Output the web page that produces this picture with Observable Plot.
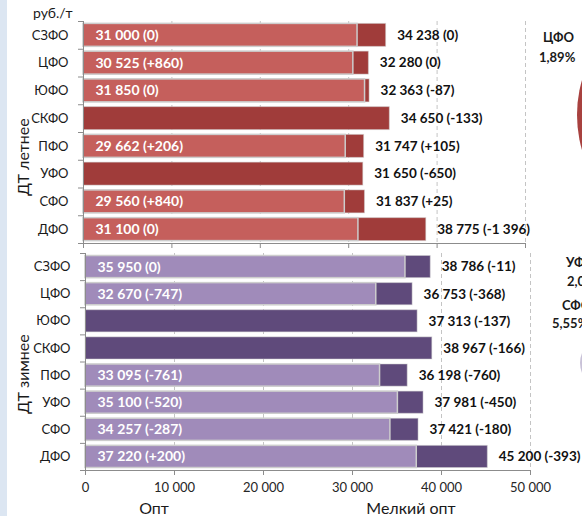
<!DOCTYPE html>
<html><head><meta charset="utf-8">
<script src="https://cdn.jsdelivr.net/npm/d3@7"></script>
<script src="https://cdn.jsdelivr.net/npm/@observablehq/plot@0.6"></script>
<style>
body{margin:0;background:#fff;font-family:Lato, sans-serif;}
#wrap{position:relative;width:582px;height:516px;overflow:hidden;background:#fff;}
.abs{position:absolute;white-space:nowrap;line-height:1;color:#1a1a1a;}
.b{font-weight:bold;font-size:13px;}
</style></head><body><div id="wrap"></div>
<script>
const regions = ["СЗФО","ЦФО","ЮФО","СКФО","ПФО","УФО","СФО","ДФО"];
const summerOpt = [31000,30525,31850,null,29662,null,29560,31100];
const summerOptChange = [0,860,0,null,206,null,840,0];
const summerSmall = [34238,32280,32363,34650,31747,31650,31837,38775];
const summerSmallChange = [0,0,-87,-133,105,-650,25,-1396];
const winterOpt = [35950,32670,null,null,33095,35100,34257,37220];
const winterOptChange = [0,-747,null,null,-761,-520,-287,200];
const winterSmall = [38786,36753,37313,38967,36198,37981,37421,45200];
const winterSmallChange = [-11,-368,-137,-166,-760,-450,-180,-393];
const xTicks = [0,10000,20000,30000,40000,50000];
const pieLabels = ["ЦФО","1,89%","УФО","2,06%","СФО","5,55%"];

const loc = d3.formatLocale({decimal:",",thousands:" ",grouping:[3],currency:["",""],minus:"-"});
const fmt = loc.format(",d");
const fmtCh = v => v > 0 ? "+" + fmt(v) : fmt(v);
const lab = (v, c) => fmt(v) + " (" + fmtCh(c) + ")";

function panel(o) {
  const data = regions.map((r,i)=>({r,i,opt:o.opt[i],optCh:o.optCh[i],small:o.small[i],smallCh:o.smallCh[i]}));
  const withOpt = data.filter(d=>d.opt!=null);
  const yc = d => d.i + 0.5;
  const svg = Plot.plot({
    width:582, height:o.height, marginTop:o.mt, marginBottom:o.mb, marginLeft:o.ml, marginRight:o.mr,
    style:{fontFamily:"Lato, sans-serif", fontSize:"13px", color:"#262626", background:"transparent", overflow:"visible"},
    x:{domain:[0,50000]},
    y:{domain:[8,0]},
    marks:[
      Plot.ruleX(xTicks.slice(1), {stroke:"#c4c4c4", strokeDasharray:"4,3"}),
      Plot.rect(data, {x1:0, x2:"small", y1:"i", y2:d=>d.i+1, insetTop:o.inset, insetBottom:o.inset, fill:o.dark, stroke:"#cfcfcf", strokeOpacity:0.5}),
      Plot.rect(withOpt, {x1:0, x2:"opt", y1:"i", y2:d=>d.i+1, insetTop:o.inset, insetBottom:o.inset, fill:o.light, stroke:"#cdcdcd", strokeWidth:1.5}),
      Plot.ruleX([0], {stroke:"#8c8c8c"}),
      Plot.ruleY([8], {stroke:"#8c8c8c"}),
      Plot.axisY({ticks:d3.range(9), tickSize:5, tickFormat:()=>"", stroke:"#8c8c8c", label:null}),
      Plot.axisX({ticks:xTicks, tickSize:5, tickPadding:7, tickFormat: o.xlabels ? fmt : ()=>"", stroke:"#8c8c8c", label:null, fontSize:13}),
      Plot.text(data, {x:0, y:yc, text:"r", textAnchor:"end", dx:-15, fill:"#1a1a1a", fontSize:13}),
      Plot.text(withOpt, {x:0, y:yc, text:d=>lab(d.opt,d.optCh), textAnchor:"start", dx:12, fill:"white", fontWeight:"bold", fontSize:14}),
      Plot.text(data, {x:"small", y:yc, text:d=>lab(d.small,d.smallCh), textAnchor:"start", dx:11, fill:"#111", fontWeight:"bold", fontSize:13.5})
    ]
  });
  svg.style.position = "absolute";
  svg.style.left = "0px";
  svg.style.top = o.top + "px";
  return svg;
}

const wrap = document.getElementById("wrap");
function div(text, css, cls) {
  const d = document.createElement("div");
  d.className = "abs " + (cls || "");
  d.textContent = text;
  d.style.cssText += css;
  wrap.appendChild(d);
  return d;
}
// left strip
const strip = document.createElement("div");
strip.style.cssText = "position:absolute;left:0;top:0;width:7px;height:516px;background:#dce6f2;";
wrap.appendChild(strip);

// pie fragments from neighbouring chart
const c1 = document.createElement("div");
c1.style.cssText = "position:absolute;left:577px;top:-10px;width:250px;height:250px;border-radius:50%;background:#a8413f;";
wrap.appendChild(c1);
const c2 = document.createElement("div");
c2.style.cssText = "position:absolute;left:580px;top:337px;width:52px;height:52px;border-radius:50%;background:#c9c2d8;";
wrap.appendChild(c2);

wrap.appendChild(panel({opt:summerOpt,optCh:summerOptChange,small:summerSmall,smallCh:summerSmallChange,
  light:"#c55f5c", dark:"#a03c3a", height:250, top:0, mt:21, mb:7, ml:83, mr:57, inset:2.4, xlabels:false}));
wrap.appendChild(panel({opt:winterOpt,optCh:winterOptChange,small:winterSmall,smallCh:winterSmallChange,
  light:"#a08bba", dark:"#5f4a7b", height:266, top:250, mt:3, mb:46, ml:85, mr:52, inset:2.5, xlabels:true}));

div("руб./т", "left:33px;top:6px;font-size:14px;");
div("ДТ летнее", "left:23px;top:157px;font-size:16px;transform:translate(-50%,-50%) rotate(-90deg);");
div("ДТ зимнее", "left:23px;top:374px;font-size:16px;transform:translate(-50%,-50%) rotate(-90deg);");
div("Опт", "left:154px;top:508px;font-size:16px;transform:translate(-50%,-50%);");
div("Мелкий опт", "left:411px;top:508px;font-size:16px;transform:translate(-50%,-50%);");

div(pieLabels[0], "left:543px;top:31px;", "b");
div(pieLabels[1], "left:539px;top:51px;", "b");
div(pieLabels[2], "left:566px;top:256px;", "b");
div(pieLabels[3], "left:567px;top:275px;", "b");
div(pieLabels[4], "left:562px;top:299px;", "b");
div(pieLabels[5], "left:552px;top:317px;", "b");
</script></body></html>
